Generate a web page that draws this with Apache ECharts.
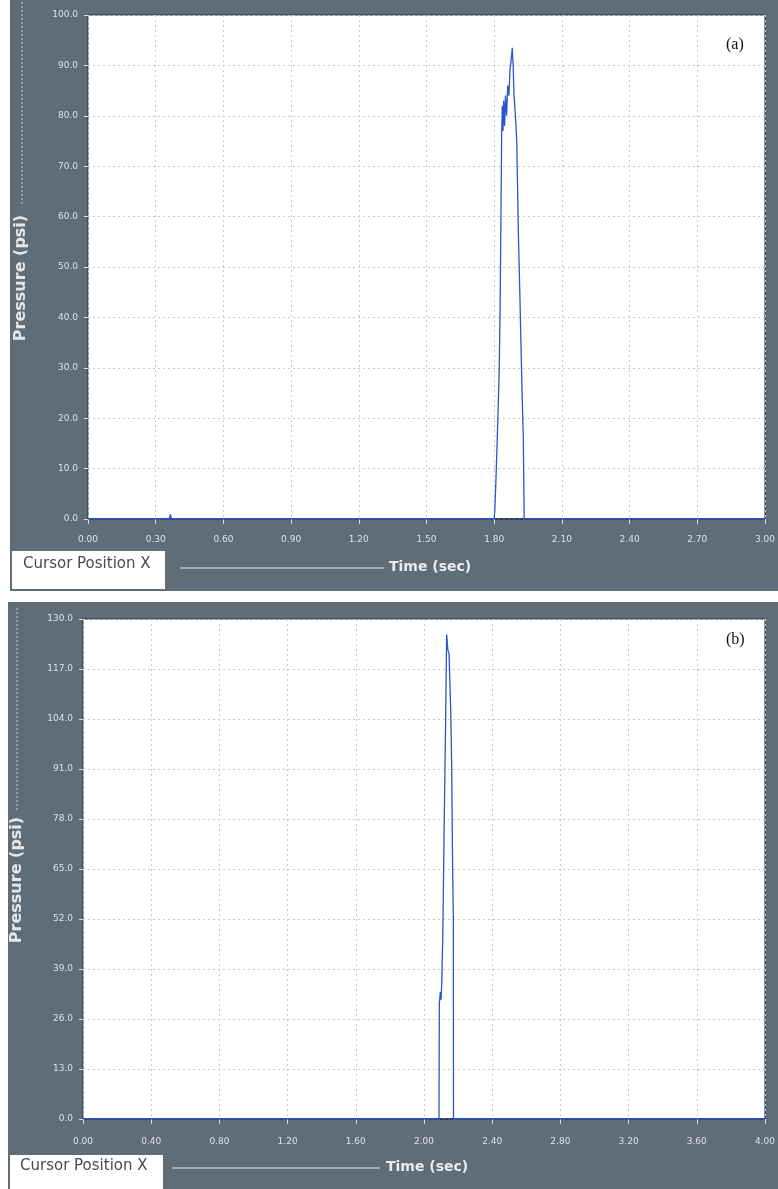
<!DOCTYPE html>
<html>
<head>
<meta charset="utf-8">
<script src="https://cdn.jsdelivr.net/npm/echarts@6/dist/echarts.min.js"></script>
<style>
html,body{margin:0;padding:0;background:#fff;}
#chart{width:778px;height:1189px;}
</style>
</head>
<body>
<div id="chart"></div>
<script>
// Panel (a) data
var timeA = [0.00, 0.36, 0.365, 0.37, 1.800, 1.803, 1.808, 1.815, 1.822, 1.826, 1.830, 1.833, 1.836, 1.839, 1.842, 1.846, 1.850, 1.855, 1.860, 1.865, 1.870, 1.875, 1.880, 1.884, 1.888, 1.894, 1.900, 1.907, 1.914, 1.922, 1.929, 1.933, 3.00];
var pressureA = [0, 0, 0.9, 0, 0, 2, 8, 18, 29, 41, 60, 76, 82, 77, 83, 78, 84, 80, 86, 84, 89, 91, 93.5, 90, 84, 80, 75, 57, 44, 28, 16, 0, 0];
// Panel (b) data
var timeB = [0.00, 2.088, 2.090, 2.096, 2.100, 2.104, 2.110, 2.119, 2.127, 2.133, 2.140, 2.147, 2.153, 2.157, 2.162, 2.168, 2.172, 2.173, 4.00];
var pressureB = [0, 0, 30, 33, 31, 35, 47, 78, 104, 126, 122, 121, 112, 106, 93, 65, 53, 0, 0];

// Axis settings (tick labels)
var xMaxA = 3.0, xStepA = 0.3, yMaxA = 100, yStepA = 10;
var xMaxB = 4.0, xStepB = 0.4, yMaxB = 130, yStepB = 13;

var panelLabels = ['(a)', '(b)'];
var yTitle = 'Pressure (psi)';
var xTitle = 'Time (sec)';
var cursorText = 'Cursor Position X';

function pairs(t, v) { return t.map(function (x, i) { return [x, v[i]]; }); }

var chart = echarts.init(document.getElementById('chart'), null, {renderer: 'canvas'});

var labelColor = '#dde1e5';
var font = '"DejaVu Sans", Verdana, sans-serif';

function xAxisCfg(gi, max, step, margin) {
  return {
    type: 'value', gridIndex: gi, min: 0, max: max, interval: step,
    axisLine: {show: true, onZero: false, lineStyle: {color: '#1d2a66', width: 1.5}},
    axisTick: {show: true, inside: false, length: 5, lineStyle: {color: '#d5dadf'}},
    axisLabel: {color: labelColor, fontSize: 9, fontFamily: font, margin: margin,
      formatter: function (v) { return v.toFixed(2); }},
    splitLine: {show: true, lineStyle: {color: '#c9c9c9', type: [2, 3], width: 1}}
  };
}
function yAxisCfg(gi, max, step, margin) {
  return {
    type: 'value', gridIndex: gi, min: 0, max: max, interval: step,
    axisLine: {show: false},
    axisTick: {show: true, inside: false, length: 4, lineStyle: {color: '#d5dadf'}},
    axisLabel: {color: labelColor, fontSize: 9, fontFamily: font, margin: margin,
      formatter: function (v) { return v.toFixed(1); }},
    splitLine: {show: true, lineStyle: {color: '#c9c9c9', type: [2, 3], width: 1}}
  };
}

var option = {
  backgroundColor: '#5f6d79',
  animation: false,
  grid: [
    {left: 88, top: 15, width: 677, height: 504, show: true, backgroundColor: '#ffffff', borderColor: '#27313a', borderWidth: 1},
    {left: 83, top: 619, width: 682, height: 500, show: true, backgroundColor: '#ffffff', borderColor: '#27313a', borderWidth: 1}
  ],
  xAxis: [xAxisCfg(0, xMaxA, xStepA, 16), xAxisCfg(1, xMaxB, xStepB, 18)],
  yAxis: [yAxisCfg(0, yMaxA, yStepA, 10), yAxisCfg(1, yMaxB, yStepB, 10)],
  series: [
    {type: 'line', xAxisIndex: 0, yAxisIndex: 0, data: pairs(timeA, pressureA), symbol: 'none',
      lineStyle: {color: '#2a56cc', width: 1.3}, z: 5},
    {type: 'line', xAxisIndex: 1, yAxisIndex: 1, data: pairs(timeB, pressureB), symbol: 'none',
      lineStyle: {color: '#2a56cc', width: 1.3}, z: 5}
  ],
  graphic: [
    // white margins / gap
    {type: 'rect', shape: {x: 0, y: 0, width: 10, height: 591}, style: {fill: '#ffffff'}, silent: true},
    {type: 'rect', shape: {x: 0, y: 591, width: 778, height: 11}, style: {fill: '#ffffff'}, silent: true},
    {type: 'rect', shape: {x: 0, y: 602, width: 8, height: 587}, style: {fill: '#ffffff'}, silent: true},
    // panel (a) decorations
    {type: 'line', shape: {x1: 22, y1: 2, x2: 22, y2: 205}, style: {stroke: '#c9ced4', lineWidth: 1, lineDash: [2, 2]}, silent: true},
    {type: 'text', x: 21, y: 278, rotation: Math.PI / 2, style: {text: yTitle, fill: '#e4e7ea', font: 'bold 16px ' + font, textAlign: 'center', textVerticalAlign: 'middle'}, silent: true},
    {type: 'rect', shape: {x: 12, y: 551, width: 153, height: 38}, style: {fill: '#ffffff'}, silent: true},
    {type: 'text', x: 23, y: 564, style: {text: cursorText, fill: '#4a4a4a', font: '15px ' + font, textVerticalAlign: 'middle'}, silent: true},
    {type: 'line', shape: {x1: 180, y1: 568, x2: 384, y2: 568}, style: {stroke: '#e0e3e6', lineWidth: 1}, silent: true},
    {type: 'text', x: 389, y: 567, style: {text: xTitle, fill: '#e9ecef', font: 'bold 14px ' + font, textVerticalAlign: 'middle'}, silent: true},
    {type: 'text', x: 726, y: 45, style: {text: panelLabels[0], fill: '#111', font: '16px "Liberation Serif", "DejaVu Serif", serif', textVerticalAlign: 'middle'}, z: 10, silent: true},
    // panel (b) decorations
    {type: 'line', shape: {x1: 17, y1: 608, x2: 17, y2: 810}, style: {stroke: '#c9ced4', lineWidth: 1, lineDash: [2, 2]}, silent: true},
    {type: 'text', x: 17, y: 880, rotation: Math.PI / 2, style: {text: yTitle, fill: '#e4e7ea', font: 'bold 16px ' + font, textAlign: 'center', textVerticalAlign: 'middle'}, silent: true},
    {type: 'rect', shape: {x: 10, y: 1155, width: 153, height: 34}, style: {fill: '#ffffff'}, silent: true},
    {type: 'text', x: 20, y: 1166, style: {text: cursorText, fill: '#4a4a4a', font: '15px ' + font, textVerticalAlign: 'middle'}, silent: true},
    {type: 'line', shape: {x1: 172, y1: 1168, x2: 380, y2: 1168}, style: {stroke: '#e0e3e6', lineWidth: 1}, silent: true},
    {type: 'text', x: 386, y: 1167, style: {text: xTitle, fill: '#e9ecef', font: 'bold 14px ' + font, textVerticalAlign: 'middle'}, silent: true},
    {type: 'text', x: 726, y: 640, style: {text: panelLabels[1], fill: '#111', font: '16px "Liberation Serif", "DejaVu Serif", serif', textVerticalAlign: 'middle'}, z: 10, silent: true}
  ]
};
chart.setOption(option);
</script>
</body>
</html>
